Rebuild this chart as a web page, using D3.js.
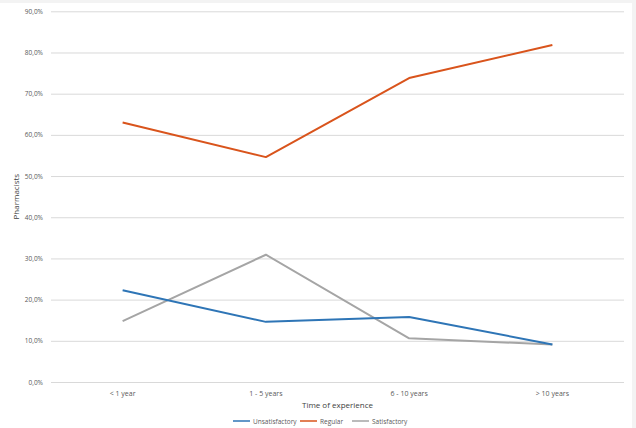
<!DOCTYPE html>
<html><head><meta charset="utf-8">
<script src="https://cdn.jsdelivr.net/npm/d3@7"></script>
<style>body{margin:0;background:#fff}svg{display:block}text{font-family:"Open Sans","Liberation Sans",sans-serif}</style>
</head><body><svg id="c" width="636" height="428"></svg>
<script>
const categories = ["< 1 year", "1 - 5 years", "6 - 10 years", "> 10 years"];
const seriesNames = ["Unsatisfactory", "Regular", "Satisfactory"];
const unsatisfactory = [22.3, 14.6, 15.8, 9.1];
const regular = [63.0, 54.6, 73.8, 81.8];
const satisfactory = [14.8, 30.9, 10.6, 9.1];
const colors = ["#2e75b6", "#d9541c", "#a5a5a5"];
const yTicks = [0,10,20,30,40,50,60,70,80,90];

const svg = d3.select("#c");
// frame
svg.append("rect").attr("x",0).attr("y",0).attr("width",636).attr("height",3).attr("fill","#f3f3f3");
svg.append("rect").attr("x",632).attr("y",0).attr("width",4).attr("height",428).attr("fill","#f3f3f3");

const m = {l:51, r:624, t:11.3, b:382};
const x = d3.scaleBand().domain(categories).range([m.l, m.r]);
const y = d3.scaleLinear().domain([0,90]).range([m.b, m.t]);
const fmt = v => d3.format(".1f")(v).replace(".", ",") + "%";

const yAxis = svg.append("g").attr("transform",`translate(${m.l},0)`)
  .call(d3.axisLeft(y).tickValues(yTicks).tickSize(-(m.r-m.l)).tickPadding(8).tickFormat(fmt));
yAxis.select(".domain").remove();
yAxis.selectAll("line").attr("stroke","#d9d9d9").attr("stroke-width",1);
yAxis.selectAll("text").attr("fill","#595959").attr("font-size",6.5);

const xAxis = svg.append("g").attr("transform",`translate(0,${m.b})`)
  .call(d3.axisBottom(x).tickSize(0).tickPadding(9));
xAxis.select(".domain").remove();
xAxis.selectAll("text").attr("fill","#595959").attr("font-size",7);

svg.append("text").attr("x",(m.l+m.r)/2).attr("y",408).attr("text-anchor","middle")
  .attr("fill","#404040").attr("font-size",8).text("Time of experience");
svg.append("text").attr("transform",`translate(19,${(m.t+m.b)/2}) rotate(-90)`).attr("text-anchor","middle")
  .attr("fill","#404040").attr("font-size",8).text("Pharmacists");

const data = [unsatisfactory, regular, satisfactory];
const line = d3.line().x((d,i)=>x(categories[i])+x.bandwidth()/2).y(d=>y(d));
// draw order: satisfactory (gray), unsatisfactory (blue), regular (orange)
[2,0,1].forEach(k=>{
  svg.append("path").datum(data[k]).attr("d",line).attr("fill","none")
    .attr("stroke",colors[k]).attr("stroke-width",2).attr("stroke-linejoin","round");
});

// legend at the bottom edge
const legX = [233, 300, 352];
seriesNames.forEach((n,i)=>{
  const g = svg.append("g").attr("transform",`translate(${legX[i]},421)`);
  g.append("line").attr("x1",0).attr("x2",17).attr("y1",0).attr("y2",0).attr("stroke",colors[i]).attr("stroke-width",1.5);
  g.append("text").attr("x",20).attr("y",2.5).attr("fill","#595959").attr("font-size",6.5).text(n);
});
</script></body></html>
